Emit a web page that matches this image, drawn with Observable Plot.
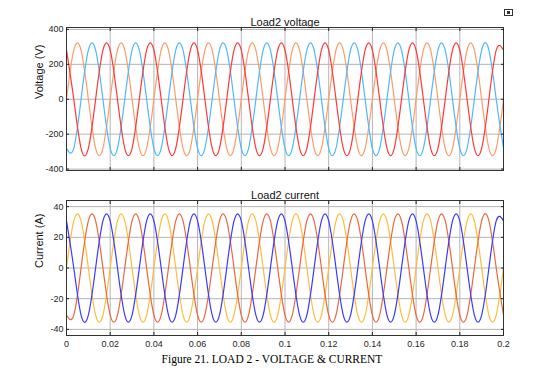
<!DOCTYPE html>
<html><head><meta charset="utf-8">
<script src="https://cdn.jsdelivr.net/npm/d3@7"></script>
<script src="https://cdn.jsdelivr.net/npm/@observablehq/plot@0.6"></script>
<style>
body{margin:0;background:#fff;}
#chart{position:relative;width:544px;height:374px;background:#fff;font-family:"Liberation Sans",Arial,sans-serif;}
#top{position:absolute;left:0;top:0;}
#bot{position:absolute;left:0;top:180px;}
#caption{position:absolute;left:0;top:352px;width:544px;text-align:center;font-family:"Liberation Serif","Times New Roman",serif;font-size:11.5px;line-height:14px;color:#000;}
#icon{position:absolute;left:504px;top:9px;width:7px;height:5px;border:1px solid #333;}
#icon span{position:absolute;left:2px;top:1px;width:3px;height:3px;background:#333;}
</style></head><body>
<div id="chart"><div id="top"></div><div id="bot"></div><div id="icon"><span></span></div><div id="caption">Figure 21. LOAD 2 - VOLTAGE &amp; CURRENT</div></div>
<script>
// time samples (s), every 1/6 of a 50 Hz cycle
const tSec = [
  0, 0.00333, 0.00667, 0.01, 0.01333, 0.01667,
  0.02, 0.02333, 0.02667, 0.03, 0.03333, 0.03667,
  0.04, 0.04333, 0.04667, 0.05, 0.05333, 0.05667,
  0.06, 0.06333, 0.06667, 0.07, 0.07333, 0.07667,
  0.08, 0.08333, 0.08667, 0.09, 0.09333, 0.09667,
  0.1, 0.10333, 0.10667, 0.11, 0.11333, 0.11667,
  0.12, 0.12333, 0.12667, 0.13, 0.13333, 0.13667,
  0.14, 0.14333, 0.14667, 0.15, 0.15333, 0.15667,
  0.16, 0.16333, 0.16667, 0.17, 0.17333, 0.17667,
  0.18, 0.18333, 0.18667, 0.19, 0.19333, 0.19667,
  0.2];
// Load2 voltage (V), phases a (orange), b (light blue), c (red)
const voltA = [
  0, 281, 281, 0, -281, -281,  0, 281, 281, 0, -281, -281,
  0, 281, 281, 0, -281, -281,  0, 281, 281, 0, -281, -281,
  0, 281, 281, 0, -281, -281,  0, 281, 281, 0, -281, -281,
  0, 281, 281, 0, -281, -281,  0, 281, 281, 0, -281, -281,
  0, 281, 281, 0, -281, -281,  0, 281, 281, 0, -281, -281, 0];
const voltB = [
  -281, -281, 0, 281, 281, 0,  -281, -281, 0, 281, 281, 0,
  -281, -281, 0, 281, 281, 0,  -281, -281, 0, 281, 281, 0,
  -281, -281, 0, 281, 281, 0,  -281, -281, 0, 281, 281, 0,
  -281, -281, 0, 281, 281, 0,  -281, -281, 0, 281, 281, 0,
  -281, -281, 0, 281, 281, 0,  -281, -281, 0, 281, 281, 0, -281];
const voltC = [
  281, 0, -281, -281, 0, 281,  281, 0, -281, -281, 0, 281,
  281, 0, -281, -281, 0, 281,  281, 0, -281, -281, 0, 281,
  281, 0, -281, -281, 0, 281,  281, 0, -281, -281, 0, 281,
  281, 0, -281, -281, 0, 281,  281, 0, -281, -281, 0, 281,
  281, 0, -281, -281, 0, 281,  281, 0, -281, -281, 0, 281, 281];
// Load2 current (A), phases a (yellow), b (red-orange), c (blue)
const currA = [
  0, 30.7, 30.7, 0, -30.7, -30.7,  0, 30.7, 30.7, 0, -30.7, -30.7,
  0, 30.7, 30.7, 0, -30.7, -30.7,  0, 30.7, 30.7, 0, -30.7, -30.7,
  0, 30.7, 30.7, 0, -30.7, -30.7,  0, 30.7, 30.7, 0, -30.7, -30.7,
  0, 30.7, 30.7, 0, -30.7, -30.7,  0, 30.7, 30.7, 0, -30.7, -30.7,
  0, 30.7, 30.7, 0, -30.7, -30.7,  0, 30.7, 30.7, 0, -30.7, -30.7, 0];
const currB = [
  -30.7, -30.7, 0, 30.7, 30.7, 0,  -30.7, -30.7, 0, 30.7, 30.7, 0,
  -30.7, -30.7, 0, 30.7, 30.7, 0,  -30.7, -30.7, 0, 30.7, 30.7, 0,
  -30.7, -30.7, 0, 30.7, 30.7, 0,  -30.7, -30.7, 0, 30.7, 30.7, 0,
  -30.7, -30.7, 0, 30.7, 30.7, 0,  -30.7, -30.7, 0, 30.7, 30.7, 0,
  -30.7, -30.7, 0, 30.7, 30.7, 0,  -30.7, -30.7, 0, 30.7, 30.7, 0, -30.7];
const currC = [
  30.7, 0, -30.7, -30.7, 0, 30.7,  30.7, 0, -30.7, -30.7, 0, 30.7,
  30.7, 0, -30.7, -30.7, 0, 30.7,  30.7, 0, -30.7, -30.7, 0, 30.7,
  30.7, 0, -30.7, -30.7, 0, 30.7,  30.7, 0, -30.7, -30.7, 0, 30.7,
  30.7, 0, -30.7, -30.7, 0, 30.7,  30.7, 0, -30.7, -30.7, 0, 30.7,
  30.7, 0, -30.7, -30.7, 0, 30.7,  30.7, 0, -30.7, -30.7, 0, 30.7, 30.7];

const xTicks = [0, 0.02, 0.04, 0.06, 0.08, 0.1, 0.12, 0.14, 0.16, 0.18, 0.2];
const voltTicks = [-400, -200, 0, 200, 400];
const currTicks = [-40, -20, 0, 20, 40];
const voltColors = ["#ff9a66", "#4db8ff", "#ff3838"];
const currColors = ["#ffbb3a", "#e8693e", "#3a3aff"];

function panel({title, ylabel, series, colors, yDomain, yTicks, height, marginTop, marginBottom, xLabels}) {
  const lines = series.map((vals, j) =>
    Plot.line(tSec.map((t, i) => [t, vals[i]]), {x: d => d[0], y: d => d[1], stroke: colors[j], strokeWidth: 1.2, curve: "natural"}));
  return Plot.plot({
    width: 544, height, marginLeft: 66, marginRight: 41, marginTop, marginBottom,
    style: {fontFamily: "'Liberation Sans', Arial, sans-serif", fontSize: "9px", color: "#262626", background: "white", overflow: "visible"},
    x: {domain: [0, 0.2]},
    y: {domain: yDomain},
    marks: [
      Plot.gridY(yTicks, {stroke: "#b4b4b4", strokeOpacity: 1}),
      Plot.gridX(xTicks, {stroke: "#b4b4b4", strokeOpacity: 1}),
      ...lines,
      Plot.frame({stroke: "#333"}),
      Plot.axisY(yTicks, {anchor: "left", tickSize: -3, tickPadding: 6, tickFormat: d => String(d), label: null}),
      Plot.axisY(yTicks, {anchor: "right", tickSize: -3, tickFormat: () => "", label: null}),
      Plot.axisX(xTicks, {anchor: "bottom", tickSize: -3, tickPadding: 8, tickFormat: xLabels ? (d => String(d)) : (() => ""), label: null}),
      Plot.axisX(xTicks, {anchor: "top", tickSize: -3, tickFormat: () => "", label: null}),
      Plot.text([title], {text: d => d, frameAnchor: "top", dy: -9, fontSize: 11, fill: "#111"}),
      Plot.text([ylabel], {text: d => d, frameAnchor: "left", rotate: -90, dx: -27, fontSize: 11, fill: "#111"})
    ]
  });
}

document.getElementById("top").append(panel({
  title: "Load2 voltage", ylabel: "Voltage (V)", series: [voltA, voltB, voltC], colors: voltColors,
  yDomain: [-408, 411], yTicks: voltTicks, height: 180, marginTop: 27, marginBottom: 10, xLabels: false
}));
document.getElementById("bot").append(panel({
  title: "Load2 current", ylabel: "Current (A)", series: [currA, currB, currC], colors: currColors,
  yDomain: [-44, 44], yTicks: currTicks, height: 172, marginTop: 20, marginBottom: 17, xLabels: true
}));
</script>
</body></html>
